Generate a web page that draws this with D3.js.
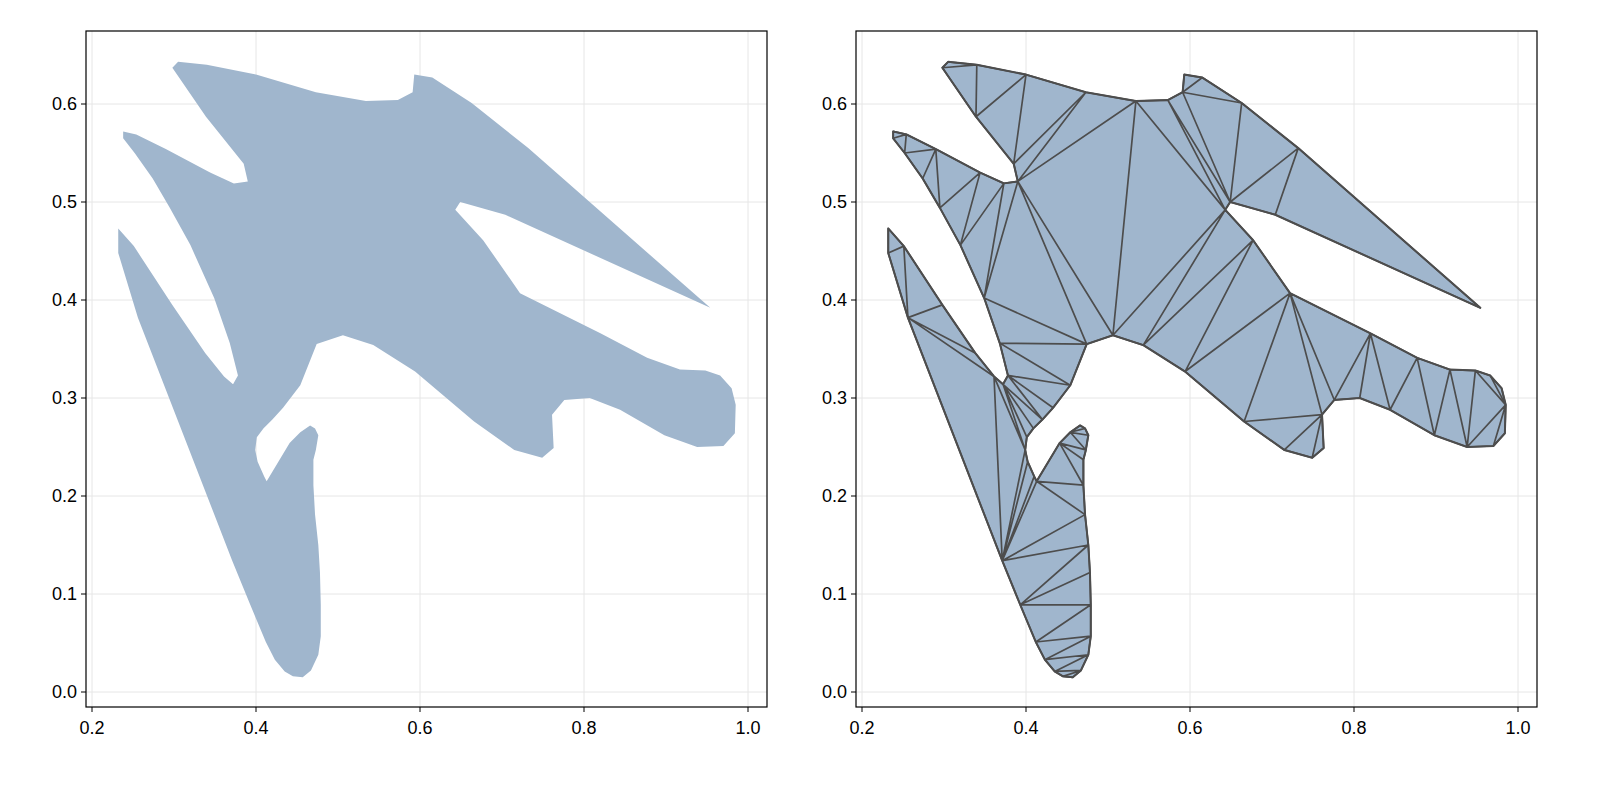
<!DOCTYPE html>
<html><head><meta charset="utf-8">
<script src="https://cdn.jsdelivr.net/npm/d3@7"></script>
<style>html,body{margin:0;background:#fff;overflow:hidden}svg{display:block}text{font-family:"Liberation Sans",Arial,sans-serif}</style>
</head><body><svg id="c" width="1600" height="800"></svg>
<script>
const xTicks=[0.2,0.4,0.6,0.8,1.0];
const yTicks=[0.0,0.1,0.2,0.3,0.4,0.5,0.6];
const polyX=[0.305,0.340,0.400,0.473,0.534,0.573,0.591,0.593,0.615,0.663,0.732,0.954,0.704,0.649,0.643,0.677,0.722,0.820,0.877,0.917,0.948,0.966,0.980,0.985,0.984,0.970,0.938,0.898,0.844,0.807,0.776,0.761,0.763,0.749,0.715,0.666,0.594,0.543,0.506,0.474,0.454,0.433,0.420,0.409,0.401,0.399,0.402,0.410,0.413,0.441,0.454,0.466,0.472,0.476,0.473,0.470,0.470,0.472,0.476,0.478,0.479,0.479,0.476,0.467,0.457,0.445,0.435,0.423,0.412,0.393,0.371,0.256,0.232,0.232,0.251,0.298,0.338,0.361,0.372,0.378,0.368,0.349,0.320,0.295,0.274,0.252,0.238,0.238,0.254,0.290,0.344,0.373,0.390,0.385,0.339,0.298];
const polyY=[0.643,0.640,0.630,0.612,0.603,0.604,0.612,0.630,0.627,0.601,0.555,0.392,0.487,0.500,0.492,0.461,0.407,0.366,0.341,0.329,0.328,0.323,0.310,0.293,0.264,0.251,0.250,0.262,0.288,0.300,0.298,0.283,0.249,0.239,0.247,0.276,0.327,0.354,0.364,0.355,0.313,0.290,0.278,0.269,0.260,0.247,0.235,0.220,0.215,0.254,0.265,0.272,0.269,0.262,0.247,0.237,0.211,0.181,0.150,0.122,0.089,0.057,0.038,0.022,0.015,0.016,0.021,0.033,0.051,0.089,0.134,0.382,0.448,0.473,0.455,0.395,0.346,0.322,0.314,0.323,0.356,0.402,0.456,0.494,0.524,0.550,0.565,0.572,0.569,0.554,0.530,0.519,0.521,0.539,0.587,0.637];
const pts=polyX.map((x,i)=>[x,polyY[i]]);

function cross(o,a,b){return (a[0]-o[0])*(b[1]-o[1])-(a[1]-o[1])*(b[0]-o[0]);}
function triangulate(P){
  let idx=d3.range(P.length);
  let area=0;for(let i=0;i<P.length;i++){const a=P[i],b=P[(i+1)%P.length];area+=a[0]*b[1]-b[0]*a[1];}
  if(area<0) idx.reverse();
  const tris=[];
  let guard=0;
  while(idx.length>3&&guard<100000){
    guard++;
    let found=false;
    for(let k=0;k<idx.length;k++){
      const a=idx[(k-1+idx.length)%idx.length],b=idx[k],c=idx[(k+1)%idx.length];
      if(cross(P[a],P[b],P[c])<=1e-12) continue;
      let ok=true;
      for(const j of idx){ if(j===a||j===b||j===c) continue;
        const p=P[j];
        if(cross(P[a],P[b],p)>=0&&cross(P[b],P[c],p)>=0&&cross(P[c],P[a],p)>=0){ok=false;break;}
      }
      if(ok){tris.push([a,b,c]);idx.splice(k,1);found=true;break;}
    }
    if(!found) break;
  }
  if(idx.length===3) tris.push(idx.slice());
  return tris;
}
function ccw(t,P){return cross(P[t[0]],P[t[1]],P[t[2]])<0?[t[0],t[2],t[1]]:t;}
function inCircle(a,b,c,d){
  const ax=a[0]-d[0],ay=a[1]-d[1],bx=b[0]-d[0],by=b[1]-d[1],cx=c[0]-d[0],cy=c[1]-d[1];
  return (ax*ax+ay*ay)*(bx*cy-cx*by)-(bx*bx+by*by)*(ax*cy-cx*ay)+(cx*cx+cy*cy)*(ax*by-bx*ay)>1e-14;
}
function segX(a,b,c,d){return cross(a,b,c)*cross(a,b,d)<0&&cross(c,d,a)*cross(c,d,b)<0;}
function delaunayFlip(tris,P){
  const N=P.length;
  const isB=(a,b)=>Math.abs(a-b)===1||Math.abs(a-b)===N-1;
  for(let pass=0;pass<3000;pass++){
    const em=new Map();
    tris.forEach((t,ti)=>{for(let e=0;e<3;e++){const a=t[e],b=t[(e+1)%3];const key=Math.min(a,b)+","+Math.max(a,b);if(!em.has(key))em.set(key,[]);em.get(key).push(ti);}});
    let flipped=false;
    for(const [key,list] of em){
      if(list.length!==2) continue;
      const [a,b]=key.split(",").map(Number);
      if(isB(a,b)) continue;
      const t1=tris[list[0]],t2=tris[list[1]];
      const p=t1.find(v=>v!==a&&v!==b),q=t2.find(v=>v!==a&&v!==b);
      const T=ccw(t1,P);
      if(inCircle(P[T[0]],P[T[1]],P[T[2]],P[q])&&segX(P[a],P[b],P[p],P[q])){
        tris[list[0]]=ccw([p,a,q],P);tris[list[1]]=ccw([p,q,b],P);flipped=true;break;
      }
    }
    if(!flipped) break;
  }
  return tris;
}
const triangles=delaunayFlip(triangulate(pts).map(t=>ccw(t,pts)),pts);

const svg=d3.select("#c");
const fill="#a0b6cd";
function panel(x0,x1,tri){
  const top=31,bot=707;
  const x=d3.scaleLinear().domain([0.2,1.0]).range([x0+6,x1-19]);
  const y=d3.scaleLinear().domain([0,0.6]).range([692,104]);
  const g=svg.append("g");
  g.selectAll(".gx").data(xTicks).join("line").attr("x1",d=>x(d)).attr("x2",d=>x(d)).attr("y1",top).attr("y2",bot).attr("stroke","#e6e6e6");
  g.selectAll(".gy").data(yTicks).join("line").attr("y1",d=>y(d)).attr("y2",d=>y(d)).attr("x1",x0).attr("x2",x1).attr("stroke","#e6e6e6");
  const sp=pts.map(p=>[x(p[0]),y(p[1])]);
  g.append("path").attr("d","M"+sp.join("L")+"Z").attr("fill",fill);
  if(tri){
    const d=triangles.map(t=>"M"+sp[t[0]]+"L"+sp[t[1]]+"L"+sp[t[2]]+"Z").join("");
    g.append("path").attr("d",d).attr("fill","none").attr("stroke","#4d4d4d").attr("stroke-width",1.7).attr("stroke-linejoin","round");
    g.append("path").attr("d","M"+sp.join("L")+"Z").attr("fill","none").attr("stroke","#4d4d4d").attr("stroke-width",2).attr("stroke-linejoin","round");
  }
  g.append("rect").attr("x",x0).attr("y",top).attr("width",x1-x0).attr("height",bot-top).attr("fill","none").attr("stroke","#000").attr("stroke-width",1.2);
  g.selectAll(".tx").data(xTicks).join("line").attr("x1",d=>x(d)).attr("x2",d=>x(d)).attr("y1",bot).attr("y2",bot+5).attr("stroke","#000");
  g.selectAll(".ty").data(yTicks).join("line").attr("y1",d=>y(d)).attr("y2",d=>y(d)).attr("x1",x0-5).attr("x2",x0).attr("stroke","#000");
  g.selectAll(".lx").data(xTicks).join("text").attr("x",d=>x(d)).attr("y",bot+27).attr("text-anchor","middle").attr("font-size",18).text(d=>d3.format(".1f")(d));
  g.selectAll(".ly").data(yTicks).join("text").attr("x",x0-9).attr("y",d=>y(d)+6).attr("text-anchor","end").attr("font-size",18).text(d=>d3.format(".1f")(d));
}
panel(86,767,false);
panel(856,1537,true);
</script></body></html>
